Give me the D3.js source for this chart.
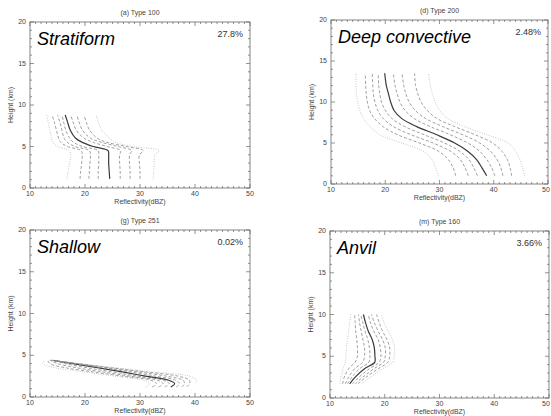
<!DOCTYPE html>
<html>
<head>
<meta charset="utf-8">
<script src="https://cdn.jsdelivr.net/npm/d3@7"></script>
<style>
  body { margin: 0; background: #fff; }
  text { font-family: "Liberation Sans", Arial, sans-serif; }
</style>
</head>
<body>
<div class="chart"></div>
<script>
// --- DATA --- //
const xTicks = [10, 20, 30, 40, 50];
const yTicks = [0, 5, 10, 15, 20];

// (a) Type 100 - stratiform
const heightsA = [1.1, 2, 3, 4, 4.5, 5, 5.5, 6, 7, 8, 8.8];
const profilesA = [
  [16.7, 16.9, 17.2, 17.4, 17.1, 15.0, 14.1, 13.9, 13.6, 13.3, 13.0],
  [19.1, 19.2, 19.4, 19.5, 19.3, 16.8, 15.6, 15.2, 14.8, 14.4, 14.0],
  [20.7, 20.8, 20.9, 21.0, 20.8, 18.2, 16.8, 16.2, 15.8, 15.4, 15.0],
  [22.4, 22.4, 22.5, 22.5, 22.4, 19.6, 17.9, 17.2, 16.5, 16.1, 15.8],
  [24.5, 24.4, 24.3, 24.3, 24.2, 21.5, 19.5, 18.3, 17.3, 16.8, 16.4],
  [26.4, 26.4, 26.3, 26.3, 26.5, 24.0, 21.5, 19.8, 18.4, 17.8, 17.4],
  [28.2, 28.2, 28.1, 28.1, 28.5, 26.0, 23.0, 21.0, 19.5, 18.9, 18.5],
  [30.0, 30.0, 29.9, 29.9, 30.6, 27.5, 24.0, 22.2, 20.8, 20.2, 19.8],
  [32.4, 32.5, 32.6, 32.7, 33.5, 28.8, 25.5, 24.5, 23.0, 22.4, 22.0]
];

// (d) Type 200 - deep convective
const heightsD = [1, 2, 3, 4, 5, 6, 7, 8, 9, 10, 11, 12, 13.5];
const profilesD = [
  [29.8, 29.3, 28.6, 27.0, 23.0, 19.0, 17.2, 16.0, 15.3, 14.9, 14.7, 14.6, 14.6],
  [33.0, 32.5, 31.6, 29.8, 26.3, 22.3, 19.6, 18.0, 17.1, 16.7, 16.5, 16.4, 16.3],
  [35.3, 34.7, 33.8, 32.0, 28.8, 24.8, 21.5, 19.6, 18.6, 18.1, 17.8, 17.7, 17.6],
  [37.0, 36.3, 35.4, 33.7, 30.9, 27.2, 23.6, 21.2, 20.0, 19.3, 19.0, 18.8, 18.7],
  [38.7, 37.8, 36.8, 35.2, 32.8, 29.5, 25.8, 23.0, 21.6, 21.0, 20.6, 20.2, 19.9],
  [40.2, 39.6, 38.7, 37.4, 35.2, 32.0, 28.3, 25.3, 23.6, 22.7, 22.2, 21.8, 21.5],
  [41.7, 41.3, 40.6, 39.4, 37.4, 34.3, 30.6, 27.4, 25.5, 24.4, 23.8, 23.4, 23.1],
  [43.3, 43.0, 42.5, 41.5, 39.8, 36.6, 32.8, 29.5, 27.7, 26.6, 26.0, 25.6, 25.4],
  [45.7, 45.3, 44.8, 44.0, 42.6, 38.8, 34.6, 31.5, 30.0, 29.2, 28.7, 28.3, 28.0]
];

// (g) Type 251 - shallow
const heightsG = [1.2, 1.6, 2.0, 2.5, 3.0, 3.5, 4.0, 4.4];
const profilesG = [
  [31.0, 31.8, 30.7, 25.3, 19.9, 14.5, 12.3, 12.8],
  [32.2, 33.0, 32.0, 26.8, 21.5, 16.5, 13.6, 13.2],
  [33.4, 34.2, 33.2, 28.2, 23.3, 18.5, 15.0, 13.6],
  [34.5, 35.3, 34.3, 29.6, 25.0, 20.4, 16.4, 13.9],
  [35.6, 36.3, 35.2, 31.0, 26.8, 22.3, 17.8, 14.2],
  [36.6, 37.2, 36.5, 32.8, 28.2, 23.2, 18.2, 14.0],
  [37.6, 38.1, 37.8, 34.8, 29.6, 24.0, 18.5, 13.8],
  [38.5, 39.0, 39.0, 36.9, 31.0, 24.8, 18.7, 13.7],
  [null, 39.8, 40.3, 39.0, 32.3, 25.6, 18.9, 13.5]
];

// (m) Type 160 - anvil
const heightsM = [1.7, 2.5, 3.5, 4.3, 5, 6, 7, 8, 9, 10];
const profilesM = [
  [11.8, 12.0, 12.4, 12.8, 12.9, 13.0, 13.2, 13.4, 13.6, 13.8],
  [12.3, 12.6, 13.4, 14.6, 15.0, 15.0, 14.9, 14.7, 14.6, 14.5],
  [12.8, 13.4, 14.5, 16.0, 16.3, 16.3, 16.0, 15.7, 15.4, 15.2],
  [13.2, 14.0, 15.4, 17.1, 17.3, 17.2, 16.9, 16.4, 16.0, 15.6],
  [13.6, 14.6, 16.3, 18.2, 18.2, 18.1, 17.7, 17.0, 16.5, 16.1],
  [14.1, 15.3, 17.2, 19.0, 19.3, 19.2, 18.8, 18.0, 17.4, 17.0],
  [14.6, 16.0, 18.0, 19.8, 20.1, 20.1, 19.6, 18.8, 18.1, 17.6],
  [15.1, 16.6, 18.8, 20.6, 20.9, 20.9, 20.4, 19.6, 19.0, 18.5],
  [15.8, 17.4, 19.6, 21.5, 21.7, 21.8, 21.4, 20.6, 19.9, 19.4]
];

const titles = ["(a) Type 100", "(d) Type 200", "(g) Type 251", "(m) Type 160"];
const names = ["Stratiform", "Deep convective", "Shallow", "Anvil"];
const shares = ["27.8%", "2.48%", "0.02%", "3.66%"];

// --- LAYOUT --- //
const width = 551, height = 416;
const frames = [
  {x0: 30, x1: 250, y0: 22, y1: 188},
  {x0: 331, x1: 548, y0: 20, y1: 184},
  {x0: 30, x1: 250, y0: 230, y1: 397},
  {x0: 330, x1: 549, y0: 231, y1: 398}
];
const panels = [
  {h: heightsA, p: profilesA},
  {h: heightsD, p: profilesD},
  {h: heightsG, p: profilesG},
  {h: heightsM, p: profilesM}
];

const svg = d3.select('.chart').append('svg')
  .attr('width', width)
  .attr('height', height);

panels.forEach((panel, i) => {
  const f = frames[i];
  const x = d3.scaleLinear().domain([10, 50]).range([f.x0, f.x1]);
  const y = d3.scaleLinear().domain([0, 20]).range([f.y1, f.y0]);
  const g = svg.append('g');

  // profile lines: outer = dotted, inner = dashed, median = solid
  const line = d3.line()
    .defined(d => d[0] != null)
    .x(d => x(d[0]))
    .y(d => y(d[1]))
    .curve(d3.curveCatmullRom);

  panel.p.forEach((vals, j) => {
    const pts = vals.map((v, k) => [v, panel.h[k]]);
    const outer = j === 0 || j === panel.p.length - 1;
    const mid = j === 4;
    g.append('path')
      .datum(pts)
      .attr('d', line)
      .attr('fill', 'none')
      .attr('stroke', mid ? '#3a3a3a' : (outer ? '#aaa' : '#888'))
      .attr('stroke-width', mid ? 1.2 : 0.8)
      .attr('stroke-dasharray', mid ? null : (outer ? '0.8,1.6' : '3,2'));
  });

  // frame
  g.append('rect')
    .attr('x', f.x0).attr('y', f.y0)
    .attr('width', f.x1 - f.x0).attr('height', f.y1 - f.y0)
    .attr('fill', 'none').attr('stroke', '#666').attr('stroke-width', 0.8);

  // minor + major ticks on all four sides, pointing in
  const tick = (x1, y1, x2, y2) => g.append('line')
    .attr('x1', x1).attr('y1', y1).attr('x2', x2).attr('y2', y2)
    .attr('stroke', '#666').attr('stroke-width', 0.7);
  d3.range(10, 51, 1).forEach(v => {
    const len = v % 10 === 0 ? 4 : 2;
    tick(x(v), f.y1, x(v), f.y1 - len);
    tick(x(v), f.y0, x(v), f.y0 + len);
  });
  d3.range(0, 21, 1).forEach(v => {
    const len = v % 5 === 0 ? 4 : 2;
    tick(f.x0, y(v), f.x0 + len, y(v));
    tick(f.x1, y(v), f.x1 - len, y(v));
  });

  // tick labels (keep the last one inside the page)
  g.selectAll('.xt').data(xTicks).join('text')
    .attr('x', d => Math.min(x(d), width - 5))
    .attr('y', f.y1 + 8)
    .attr('text-anchor', 'middle')
    .attr('font-size', 7).attr('fill', '#444')
    .text(d => d);
  g.selectAll('.yt').data(yTicks).join('text')
    .attr('x', f.x0 - 4).attr('y', d => y(d) + 2)
    .attr('text-anchor', 'end')
    .attr('font-size', 7).attr('fill', '#444')
    .text(d => d);

  // axis labels
  g.append('text')
    .attr('x', (f.x0 + f.x1) / 2).attr('y', f.y1 + 16)
    .attr('text-anchor', 'middle')
    .attr('font-size', 7).attr('fill', '#444')
    .text('Reflectivity(dBZ)');
  g.append('text')
    .attr('transform', `translate(${f.x0 - 17},${(f.y0 + f.y1) / 2}) rotate(-90)`)
    .attr('text-anchor', 'middle')
    .attr('font-size', 7).attr('fill', '#444')
    .text('Height (km)');

  // title
  g.append('text')
    .attr('x', (f.x0 + f.x1) / 2).attr('y', f.y0 - 7)
    .attr('text-anchor', 'middle')
    .attr('font-size', 7).attr('fill', '#444')
    .text(titles[i]);

  // big name + percentage
  g.append('text')
    .attr('x', f.x0 + 7).attr('y', f.y0 + 23)
    .attr('font-size', 18).attr('font-style', 'italic').attr('fill', '#000')
    .text(names[i]);
  g.append('text')
    .attr('x', f.x1 - 7).attr('y', f.y0 + 15)
    .attr('text-anchor', 'end')
    .attr('font-size', 9).attr('fill', '#333')
    .text(shares[i]);
});
</script>
</body>
</html>
